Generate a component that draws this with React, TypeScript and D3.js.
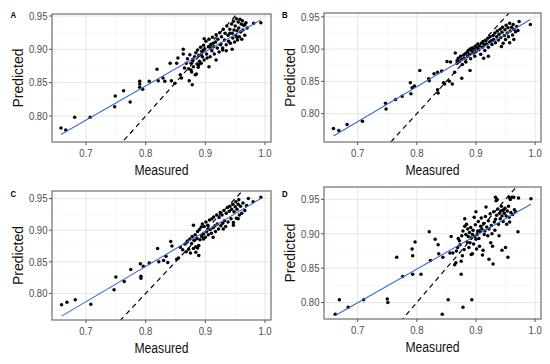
import * as d3 from "d3";

type Pt = [number, number];

const xTicks = [0.7, 0.8, 0.9, 1.0];
const xMinor = [0.65, 0.75, 0.85, 0.95];
const yTicks = [0.8, 0.85, 0.9, 0.95];
const yMinor = [0.775, 0.825, 0.875, 0.925];
const panelLabels = ["A", "B", "C", "D"];

// [measured, predicted]
const pointsA: Pt[] = [
  [0.658, 0.782], [0.666, 0.779], [0.681, 0.798], [0.707, 0.798], [0.748, 0.814], [0.749, 0.83],
  [0.763, 0.838], [0.774, 0.821], [0.79, 0.852], [0.79, 0.848], [0.79, 0.843], [0.795, 0.84],
  [0.806, 0.852], [0.819, 0.87], [0.821, 0.853], [0.829, 0.857], [0.832, 0.852], [0.841, 0.879],
  [0.843, 0.853], [0.849, 0.849], [0.852, 0.879], [0.854, 0.887], [0.858, 0.862], [0.86, 0.857],
  [0.863, 0.9], [0.863, 0.893], [0.865, 0.872], [0.868, 0.879], [0.873, 0.853], [0.878, 0.847],
  [0.876, 0.869], [0.879, 0.885], [0.885, 0.863], [0.889, 0.877], [0.893, 0.892], [0.897, 0.899],
  [0.898, 0.916], [0.906, 0.874], [0.909, 0.902], [0.913, 0.909], [0.918, 0.884], [0.925, 0.907],
  [0.929, 0.899], [0.935, 0.898], [0.945, 0.9], [0.941, 0.924], [0.953, 0.918], [0.966, 0.937],
  [0.993, 0.94], [0.981, 0.939],
  [0.87, 0.886], [0.872, 0.871], [0.874, 0.892], [0.876, 0.879], [0.877, 0.866], [0.879, 0.883],
  [0.88, 0.874], [0.882, 0.889], [0.883, 0.862], [0.884, 0.895], [0.886, 0.878], [0.887, 0.899],
  [0.888, 0.873], [0.889, 0.891], [0.89, 0.882], [0.892, 0.903], [0.893, 0.879], [0.894, 0.897],
  [0.895, 0.889], [0.897, 0.906], [0.898, 0.884], [0.899, 0.901], [0.901, 0.912], [0.902, 0.893],
  [0.903, 0.887], [0.905, 0.904], [0.906, 0.915], [0.908, 0.889], [0.909, 0.907], [0.911, 0.898],
  [0.912, 0.918], [0.914, 0.904], [0.915, 0.893], [0.917, 0.911], [0.918, 0.922], [0.92, 0.902],
  [0.921, 0.915], [0.923, 0.896], [0.924, 0.925], [0.926, 0.908], [0.927, 0.919], [0.929, 0.902],
  [0.93, 0.93], [0.932, 0.914], [0.933, 0.924], [0.935, 0.907], [0.936, 0.935], [0.938, 0.921],
  [0.939, 0.912], [0.941, 0.93], [0.942, 0.909], [0.944, 0.938], [0.945, 0.924], [0.946, 0.917],
  [0.947, 0.942], [0.948, 0.929], [0.949, 0.911], [0.95, 0.935], [0.951, 0.921], [0.952, 0.946],
  [0.953, 0.928], [0.954, 0.914], [0.955, 0.941], [0.956, 0.932], [0.957, 0.919], [0.958, 0.945],
  [0.959, 0.926], [0.96, 0.938], [0.961, 0.915], [0.962, 0.943], [0.963, 0.929], [0.964, 0.936],
  [0.966, 0.921], [0.968, 0.94], [0.97, 0.932],
];

const pointsB: Pt[] = [
  [0.659, 0.777], [0.668, 0.774], [0.682, 0.783], [0.708, 0.788], [0.747, 0.816], [0.748, 0.807],
  [0.764, 0.822], [0.775, 0.827], [0.789, 0.848], [0.79, 0.831], [0.792, 0.84], [0.796, 0.843],
  [0.805, 0.867], [0.82, 0.854], [0.821, 0.851], [0.829, 0.862], [0.835, 0.864], [0.835, 0.837],
  [0.836, 0.832], [0.842, 0.866], [0.845, 0.848], [0.847, 0.846], [0.851, 0.881], [0.857, 0.88],
  [0.855, 0.85], [0.86, 0.846], [0.864, 0.864], [0.865, 0.894], [0.868, 0.882], [0.876, 0.855],
  [0.89, 0.867], [0.898, 0.889], [0.913, 0.886], [0.921, 0.889], [0.943, 0.904], [0.957, 0.91],
  [0.964, 0.915], [0.971, 0.929], [0.992, 0.938], [0.973, 0.943], [0.963, 0.938],
  [0.868, 0.878], [0.87, 0.886], [0.872, 0.881], [0.874, 0.889], [0.876, 0.884], [0.877, 0.876],
  [0.879, 0.891], [0.88, 0.886], [0.882, 0.893], [0.883, 0.88], [0.885, 0.895], [0.886, 0.889],
  [0.887, 0.898], [0.889, 0.892], [0.89, 0.9], [0.891, 0.885], [0.893, 0.897], [0.894, 0.902],
  [0.896, 0.894], [0.897, 0.9], [0.899, 0.905], [0.9, 0.896], [0.902, 0.902], [0.903, 0.908],
  [0.905, 0.899], [0.906, 0.905], [0.908, 0.892], [0.909, 0.909], [0.911, 0.903], [0.912, 0.912],
  [0.914, 0.907], [0.915, 0.898], [0.917, 0.913], [0.918, 0.908], [0.92, 0.917], [0.921, 0.903],
  [0.923, 0.911], [0.924, 0.919], [0.926, 0.913], [0.927, 0.907], [0.929, 0.921], [0.93, 0.915],
  [0.932, 0.925], [0.933, 0.91], [0.935, 0.919], [0.936, 0.928], [0.938, 0.914], [0.939, 0.923],
  [0.941, 0.931], [0.942, 0.918], [0.944, 0.926], [0.945, 0.934], [0.946, 0.909], [0.948, 0.921],
  [0.949, 0.93], [0.95, 0.915], [0.951, 0.937], [0.953, 0.925], [0.954, 0.933], [0.955, 0.919],
  [0.957, 0.94], [0.958, 0.928], [0.96, 0.934], [0.962, 0.922], [0.964, 0.931], [0.967, 0.927],
  [0.969, 0.935],
];

const pointsC: Pt[] = [
  [0.659, 0.782], [0.668, 0.786], [0.682, 0.79], [0.708, 0.783], [0.747, 0.806], [0.75, 0.826],
  [0.764, 0.819], [0.775, 0.838], [0.791, 0.847], [0.792, 0.827], [0.792, 0.824], [0.796, 0.843],
  [0.806, 0.848], [0.82, 0.871], [0.822, 0.85], [0.83, 0.852], [0.834, 0.859], [0.837, 0.849],
  [0.842, 0.882], [0.844, 0.875], [0.852, 0.854], [0.855, 0.856], [0.858, 0.873], [0.862, 0.869],
  [0.869, 0.881], [0.88, 0.908], [0.884, 0.865], [0.889, 0.86], [0.887, 0.872], [0.897, 0.886],
  [0.905, 0.902], [0.913, 0.889], [0.93, 0.902], [0.947, 0.908], [0.955, 0.918], [0.969, 0.939],
  [0.972, 0.95], [0.993, 0.952], [0.98, 0.945],
  [0.866, 0.878], [0.868, 0.866], [0.87, 0.883], [0.872, 0.87], [0.874, 0.886], [0.875, 0.864],
  [0.877, 0.879], [0.878, 0.89], [0.88, 0.871], [0.881, 0.884], [0.883, 0.893], [0.884, 0.874],
  [0.886, 0.887], [0.887, 0.898], [0.889, 0.876], [0.89, 0.901], [0.891, 0.885], [0.893, 0.905],
  [0.894, 0.89], [0.895, 0.91], [0.897, 0.894], [0.898, 0.906], [0.9, 0.889], [0.901, 0.913],
  [0.902, 0.898], [0.904, 0.908], [0.905, 0.893], [0.907, 0.916], [0.908, 0.901], [0.91, 0.895],
  [0.911, 0.918], [0.913, 0.904], [0.914, 0.921], [0.916, 0.907], [0.917, 0.898], [0.919, 0.924],
  [0.92, 0.91], [0.922, 0.902], [0.923, 0.92], [0.925, 0.928], [0.926, 0.907], [0.928, 0.924],
  [0.929, 0.911], [0.931, 0.931], [0.932, 0.915], [0.934, 0.906], [0.935, 0.927], [0.937, 0.936],
  [0.938, 0.913], [0.94, 0.93], [0.941, 0.938], [0.943, 0.918], [0.944, 0.933], [0.946, 0.941],
  [0.947, 0.912], [0.948, 0.929], [0.95, 0.937], [0.951, 0.945], [0.952, 0.919], [0.953, 0.933],
  [0.955, 0.941], [0.956, 0.948], [0.957, 0.924], [0.959, 0.938], [0.961, 0.927], [0.963, 0.943],
  [0.966, 0.931],
];

const pointsD: Pt[] = [
  [0.662, 0.783], [0.669, 0.804], [0.684, 0.793], [0.71, 0.804], [0.75, 0.805], [0.751, 0.8],
  [0.766, 0.866], [0.776, 0.838], [0.792, 0.878], [0.793, 0.868], [0.793, 0.841], [0.797, 0.888],
  [0.807, 0.841], [0.821, 0.903], [0.823, 0.861], [0.831, 0.892], [0.836, 0.884], [0.837, 0.871],
  [0.844, 0.866], [0.843, 0.783], [0.853, 0.804], [0.858, 0.896], [0.861, 0.872], [0.866, 0.858],
  [0.875, 0.841], [0.878, 0.793], [0.881, 0.922], [0.893, 0.804], [0.894, 0.871], [0.9, 0.932],
  [0.911, 0.869], [0.917, 0.939], [0.922, 0.863], [0.929, 0.856], [0.933, 0.953], [0.934, 0.948],
  [0.944, 0.876], [0.954, 0.866], [0.956, 0.953], [0.961, 0.953], [0.972, 0.952], [0.971, 0.903],
  [0.993, 0.951], [0.967, 0.932],
  [0.856, 0.872], [0.864, 0.855], [0.867, 0.875], [0.869, 0.88], [0.872, 0.89], [0.875, 0.86],
  [0.878, 0.904], [0.881, 0.911], [0.883, 0.899], [0.886, 0.907], [0.889, 0.902], [0.892, 0.894],
  [0.894, 0.899], [0.892, 0.87], [0.897, 0.924], [0.9, 0.892], [0.903, 0.904], [0.906, 0.882],
  [0.908, 0.911], [0.912, 0.876], [0.914, 0.899], [0.922, 0.907], [0.925, 0.887], [0.928, 0.882],
  [0.933, 0.921], [0.936, 0.95], [0.939, 0.897], [0.942, 0.933], [0.944, 0.926], [0.947, 0.935],
  [0.95, 0.88], [0.952, 0.914], [0.956, 0.924], [0.958, 0.95], [0.964, 0.953],
  [0.884, 0.914], [0.887, 0.896], [0.89, 0.887], [0.891, 0.909], [0.895, 0.905], [0.898, 0.896],
  [0.899, 0.913], [0.902, 0.899], [0.904, 0.918], [0.905, 0.893], [0.907, 0.903], [0.909, 0.923],
  [0.91, 0.907], [0.913, 0.915], [0.915, 0.904], [0.916, 0.925], [0.918, 0.91], [0.92, 0.897],
  [0.921, 0.919], [0.924, 0.929], [0.926, 0.912], [0.927, 0.9], [0.93, 0.932], [0.931, 0.917],
  [0.932, 0.905], [0.935, 0.927], [0.937, 0.936], [0.938, 0.914], [0.94, 0.93], [0.941, 0.922],
  [0.943, 0.94], [0.945, 0.934], [0.946, 0.918], [0.948, 0.93], [0.949, 0.937], [0.951, 0.926],
  [0.953, 0.933], [0.955, 0.94], [0.957, 0.917], [0.959, 0.931], [0.962, 0.928], [0.965, 0.935],
  [0.87, 0.893], [0.873, 0.884], [0.876, 0.897], [0.88, 0.877], [0.885, 0.888], [0.888, 0.88],
  [0.896, 0.885], [0.901, 0.878], [0.877, 0.868],
];

const panelPoints = [pointsA, pointsB, pointsC, pointsD];
const panelYDomains: [number, number][] = [
  [0.761, 0.953],
  [0.756, 0.956],
  [0.758, 0.962],
  [0.776, 0.968],
];

// plot-area boxes: left, top, right, bottom
const boxes = [
  [52, 14, 271, 142],
  [324, 13, 541, 142],
  [52, 191, 271, 320],
  [324, 187, 541, 319],
];
const labelBaselines = [18, 17.5, 197, 196.5];

const FONT = "'Liberation Sans', Arial, sans-serif";
const SQUEEZE = 0.87;

const Txt = ({ x, y, size, anchor = "middle", fill = "#4d4d4d", weight = "normal", children }: any) => (
  <text
    transform={`translate(${x},${y}) scale(${SQUEEZE},1)`}
    fontSize={size}
    fontFamily={FONT}
    textAnchor={anchor}
    fill={fill}
    fontWeight={weight}
  >
    {children}
  </text>
);

function linearFit(pts: Pt[]) {
  const mx = d3.mean(pts, (d) => d[0]) ?? 0;
  const my = d3.mean(pts, (d) => d[1]) ?? 0;
  const sxy = d3.sum(pts, (d) => (d[0] - mx) * (d[1] - my));
  const sxx = d3.sum(pts, (d) => (d[0] - mx) ** 2);
  const slope = sxy / sxx;
  return { slope, intercept: my - slope * mx };
}

const Panel = ({ idx }: { idx: number }) => {
  const [l, t, r, b] = boxes[idx];
  const pts = panelPoints[idx];
  const x = d3.scaleLinear().domain([0.643, 1.01]).range([l, r]);
  const y = d3.scaleLinear().domain(panelYDomains[idx]).range([b, t]);
  const fit = linearFit(pts);
  const [x0, x1] = d3.extent(pts, (d) => d[0]) as [number, number];
  const clipId = `clip${idx}`;
  const [d0, d1] = x.domain();

  return (
    <g>
      <clipPath id={clipId}>
        <rect x={l} y={t} width={r - l} height={b - t} />
      </clipPath>
      <rect x={l} y={t} width={r - l} height={b - t} fill="#fff" />
      {xMinor.map((v) => (
        <line key={"xm" + v} x1={x(v)} x2={x(v)} y1={t} y2={b} stroke="#f2f2f2" strokeWidth={0.6} />
      ))}
      {yMinor.map((v) => (
        <line key={"ym" + v} x1={l} x2={r} y1={y(v)} y2={y(v)} stroke="#f2f2f2" strokeWidth={0.6} />
      ))}
      {xTicks.map((v) => (
        <line key={"xg" + v} x1={x(v)} x2={x(v)} y1={t} y2={b} stroke="#e6e6e6" strokeWidth={1} />
      ))}
      {yTicks.map((v) => (
        <line key={"yg" + v} x1={l} x2={r} y1={y(v)} y2={y(v)} stroke="#e6e6e6" strokeWidth={1} />
      ))}
      <g clipPath={`url(#${clipId})`}>
        <line
          x1={x(d0)}
          y1={y(d0)}
          x2={x(d1)}
          y2={y(d1)}
          stroke="#000"
          strokeWidth={1.2}
          strokeDasharray="5,4"
        />
        {pts.map((d, i) => (
          <circle key={i} cx={x(d[0])} cy={y(d[1])} r={1.75} fill="#000" />
        ))}
        <line
          x1={x(x0)}
          y1={y(fit.intercept + fit.slope * x0)}
          x2={x(x1)}
          y2={y(fit.intercept + fit.slope * x1)}
          stroke="#3a6bd0"
          strokeWidth={1.1}
        />
      </g>
      <rect x={l} y={t} width={r - l} height={b - t} fill="none" stroke="#6e6e6e" strokeWidth={1.2} />
      {xTicks.map((v) => (
        <g key={"xt" + v}>
          <line x1={x(v)} x2={x(v)} y1={b} y2={b + 3} stroke="#555" strokeWidth={1} />
          <Txt x={x(v)} y={b + 14.5} size={11}>
            {d3.format(".1f")(v)}
          </Txt>
        </g>
      ))}
      {yTicks.map((v) => (
        <g key={"yt" + v}>
          <line x1={l - 3} x2={l} y1={y(v)} y2={y(v)} stroke="#555" strokeWidth={1} />
          <Txt x={l - 4.5} y={y(v) + 3.8} size={11} anchor="end">
            {d3.format(".2f")(v)}
          </Txt>
        </g>
      ))}
      <Txt x={(l + r) / 2} y={b + 33} size={14} fill="#111">
        Measured
      </Txt>
      <text
        transform={`translate(${l - 29},${(t + b) / 2}) rotate(-90)`}
        fontSize={14}
        fontFamily={FONT}
        textAnchor="middle"
        fill="#111"
      >
        Predicted
      </text>
      <Txt
        x={idx % 2 === 0 ? 10.5 : 282}
        y={labelBaselines[idx]}
        size={9}
        anchor="start"
        fill="#000"
        weight="bold"
      >
        {panelLabels[idx]}
      </Txt>
    </g>
  );
};

export default function App() {
  return (
    <svg
      width={550}
      height={364}
      viewBox="0 0 550 364"
      style={{ position: "absolute", left: 0, top: 0, background: "#fff" }}
    >
      <rect width={550} height={364} fill="#fff" />
      {panelLabels.map((_, i) => (
        <Panel key={i} idx={i} />
      ))}
    </svg>
  );
}
